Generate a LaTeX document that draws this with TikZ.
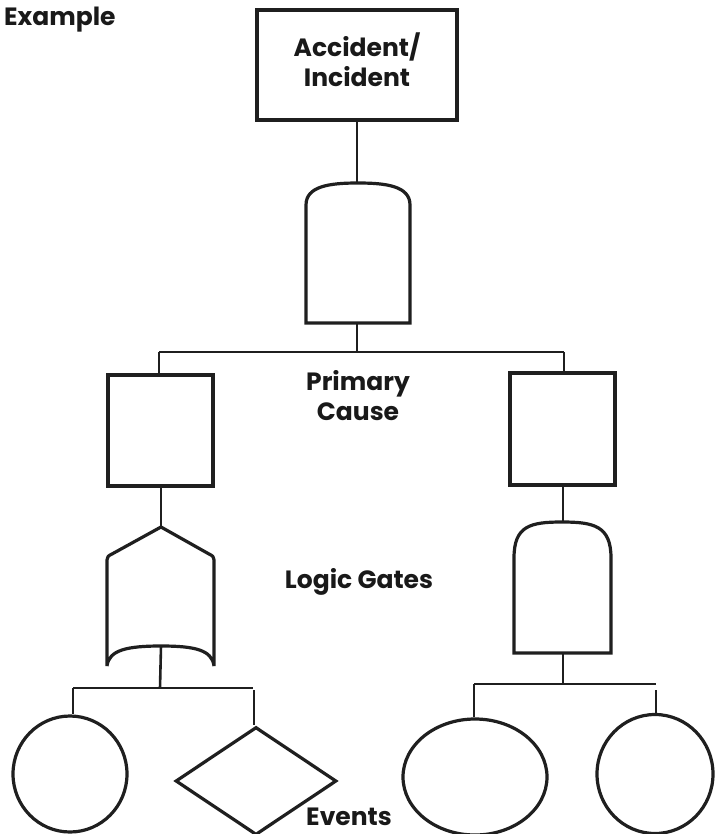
\documentclass[tikz,border=0pt]{standalone}
\usepackage{fontspec}
\setmainfont{Poppins}
\usetikzlibrary{shapes.geometric}
\begin{document}
\begin{tikzpicture}[x=1pt,y=-1pt,
  shp/.style={draw=black!88,line width=3.2pt,fill=white},
  conn/.style={draw=black!88,line width=2.6pt},
  lbl/.style={font=\fontsize{25}{30}\selectfont\bfseries,text=black!90,align=center,inner sep=0pt},
  boxnode/.style={shp,rectangle,inner sep=0pt}]
\useasboundingbox (0,0) rectangle (719,834);
% top event
\node[boxnode,minimum width=200pt,minimum height=110pt] (top) at (357,65) {};
\node[lbl] (toptxt) at (357,60) {Accident/\\Incident};
\node[lbl,anchor=west] (ex) at (4,20) {Example};
% AND gate 1
\draw[shp] (306,323) -- (306,205) .. controls (306,186) and (330,183) .. (358,183)
  .. controls (386,183) and (410,186) .. (410,205) -- (410,323) -- cycle;
\coordinate (g1t) at (357,183);
\coordinate (g1b) at (357,323);
\draw[conn] (top.south) -- (g1t);
% splitter 1
\coordinate (s1) at (357,352);
\coordinate (s1l) at (159,352);
\coordinate (s1r) at (564,352);
\draw[conn] (g1b) -- (s1);
\draw[conn] (s1l) -- (s1r);
% primary boxes
\node[boxnode,minimum width=105pt,minimum height=111pt] (pl) at (160.5,430.5) {};
\node[boxnode,minimum width=105pt,minimum height=112pt] (pr) at (562.5,429) {};
\draw[conn] (s1l) -- (s1l |- pl.north);
\draw[conn] (s1r) -- (s1r |- pr.north);
\node[lbl] (prim) at (358,396) {Primary\\Cause};
% OR gate left
\draw[shp] (107,666) -- (107,560) .. controls (108,556) .. (112,554) -- (161,527) -- (209,554)
  .. controls (213,556) .. (214,560) -- (214,666)
  .. controls (212,650) and (195,646) .. (161,646)
  .. controls (127,646) and (109,650) .. (107,666) -- cycle;
\coordinate (g2t) at (161,527);
\coordinate (g2b) at (161,646);
\draw[conn] (pl.south -| g2t) -- (g2t);
% AND gate right
\draw[shp] (514,653) -- (514,558) .. controls (514,526) and (530,522) .. (562,522)
  .. controls (594,522) and (611,526) .. (611,558) -- (611,653) -- cycle;
\coordinate (g3t) at (563,522);
\coordinate (g3b) at (563,653);
\draw[conn] (pr.south -| g3t) -- (g3t);
\node[lbl] (logic) at (359,582) {Logic Gates};
% splitter left
\coordinate (s2) at (160,688);
\coordinate (s2l) at (73,688);
\coordinate (s2r) at (253,688);
\draw[conn] (g2b) -- (s2);
\draw[conn] (s2l) -- (s2r);
% splitter right
\coordinate (s3) at (563,684);
\coordinate (s3l) at (474,684);
\coordinate (s3r) at (656,684);
\draw[conn] (g3b) -- (s3);
\draw[conn] (s3l) -- (s3r);
% events
\node[shp,ellipse,minimum width=114pt,minimum height=116pt,inner sep=0pt] (e1) at (70,774) {};
\node[shp,diamond,minimum width=161pt,minimum height=108pt,inner sep=0pt,aspect=1.5] (e2) at (256,781) {};
\node[shp,ellipse,minimum width=144pt,minimum height=116pt,inner sep=0pt] (e3) at (475,777) {};
\node[shp,ellipse,minimum width=116pt,minimum height=119pt,inner sep=0pt] (e4) at (655,774) {};
\draw[conn] (s2l) -- (e1.north -| s2l);
\coordinate (s2rb) at (254,690);
\draw[conn] (s2rb) -- (s2rb |- e2.north);
\draw[conn] (s3l) -- (e3.north -| s3l);
\coordinate (s3rb) at (656,690);
\draw[conn] (s3rb) -- (e4.north -| s3rb);
\node[lbl] (ev) at (349,817) {Events};
\end{tikzpicture}
\end{document}
